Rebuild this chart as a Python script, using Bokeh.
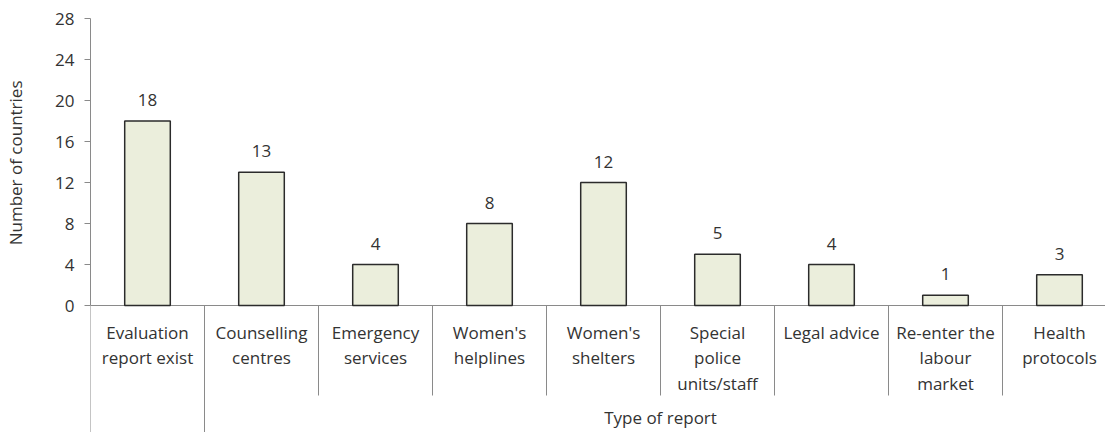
from bokeh.plotting import figure
from bokeh.models import Range1d, FixedTicker, Title
from bokeh.embed import file_html
from bokeh.resources import INLINE
from bokeh.core.properties import value

categories = ["Evaluation\nreport exist", "Counselling\ncentres", "Emergency\nservices",
              "Women's\nhelplines", "Women's\nshelters", "Special\npolice\nunits/staff",
              "Legal advice", "Re-enter the\nlabour\nmarket", "Health\nprotocols"]
counts = [18, 13, 4, 8, 12, 5, 4, 1, 3]
groups = ["", "Type of report", "Type of report", "Type of report", "Type of report",
          "Type of report", "Type of report", "Type of report", "Type of report"]
y_ticks = [0, 4, 8, 12, 16, 20, 24, 28]
y_label = "Number of countries"

FONT = "Open Sans"
FS = "17px"
TXT = "#333333"
PX = 10.25   # pixels per y unit
XPX = 114.0  # pixels per category

W, H = 1105, 432
LEFT, TOP = 90, 18
y_bottom = -(H - (TOP + 28 * PX)) / PX
x_end = (W - LEFT) / XPX

p = figure(width=W, height=H, x_range=Range1d(0, x_end), y_range=Range1d(y_bottom, 28),
           output_backend="svg", toolbar_location=None, x_axis_location=None,
           min_border_left=LEFT, min_border_top=TOP, min_border_right=0, min_border_bottom=0)
p.outline_line_color = None
p.xgrid.visible = False
p.ygrid.visible = False

ax = p.yaxis[0]
ax.bounds = (0, 28)
ax.ticker = FixedTicker(ticks=y_ticks)
ax.minor_tick_line_color = None
ax.major_tick_out = 6
ax.major_tick_in = 0
ax.axis_line_color = "#8a8a8a"
ax.major_tick_line_color = "#8a8a8a"
ax.major_label_text_font = FONT
ax.major_label_text_font_size = FS
ax.major_label_text_color = TXT
ax.major_label_standoff = 10

# trailing empty line widens the title panel so the label sits further left
p.add_layout(Title(text=y_label + "\n ", align="right", vertical_align="top", offset=62,
                   standoff=2, text_font=FONT, text_font_size=FS, text_line_height=1.0,
                   text_font_style="normal", text_color=TXT), "left")

xs = [i + 0.5 for i in range(len(categories))]

# baseline
p.segment(x0=[0], y0=[0], x1=[x_end], y1=[0], line_color="#8a8a8a", line_width=1)

p.vbar(x=xs, top=counts, bottom=0, width=0.4, fill_color="#EBEEDC",
       line_color="#2b2b2b", line_width=1.5)

p.text(x=xs, y=counts, text=[str(c) for c in counts], text_align="center",
       text_baseline="bottom", y_offset=-15, text_font=value(FONT),
       text_font_size=FS, text_color=TXT)

# category labels
p.text(x=xs, y=[-15 / PX] * len(xs), text=categories, text_align="center",
       text_baseline="top", text_font=value(FONT), text_font_size=FS,
       text_color=TXT, text_line_height=1.12)

# separators
sep_x, sep_y1 = [], []
for i in range(len(categories) + 1):
    left = groups[i - 1] if i > 0 else None
    right = groups[i] if i < len(groups) else None
    sep_x.append(i)
    sep_y1.append(y_bottom if left != right else -90 / PX)
p.segment(x0=sep_x, y0=[0] * len(sep_x), x1=sep_x, y1=sep_y1,
          line_color="#8a8a8a", line_width=1)

# group labels
glabels, gx = [], []
for g in dict.fromkeys(groups):
    if not g:
        continue
    idx = [i for i, gg in enumerate(groups) if gg == g]
    glabels.append(g)
    gx.append((idx[0] + idx[-1] + 1) / 2)
p.text(x=gx, y=[-112 / PX] * len(gx), text=glabels, text_align="center",
       text_baseline="middle", text_font=value(FONT), text_font_size=FS,
       text_color=TXT)

open("out.html", "w").write(file_html(p, INLINE))
